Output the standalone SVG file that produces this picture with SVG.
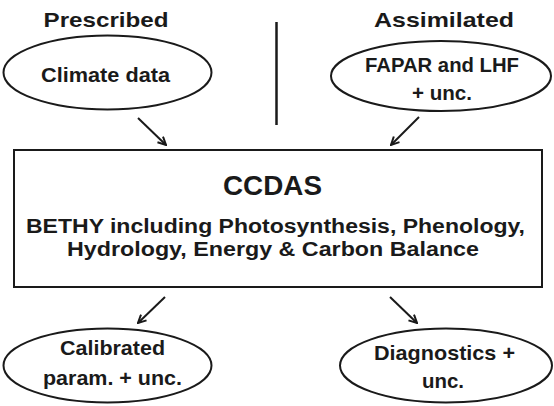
<svg xmlns="http://www.w3.org/2000/svg" width="554" height="406" viewBox="0 0 554 406">
<style>
text{font-family:"Liberation Sans",Arial,sans-serif;font-weight:bold;fill:#1a1a1a;text-anchor:middle}
.n{fill:#fff;stroke:#1a1a1a;stroke-width:2}
.c{stroke:#1a1a1a;stroke-width:2;fill:none;marker-end:url(#ah)}
.h{font-size:21px}
.l{font-size:21px}
</style>
<defs>
<marker id="ah" viewBox="0 0 10 10" refX="9" refY="5" markerWidth="10" markerHeight="10" markerUnits="userSpaceOnUse" orient="auto">
<path d="M1,1 L9,5 L1,9" fill="none" stroke="#1a1a1a" stroke-width="2"/>
</marker>
</defs>
<rect width="554" height="406" fill="#fff"/>
<g id="header-prescribed"><text class="h" x="106" y="27" textLength="125" lengthAdjust="spacingAndGlyphs">Prescribed</text></g>
<g id="header-assimilated"><text class="h" x="444" y="27" textLength="140" lengthAdjust="spacingAndGlyphs">Assimilated</text></g>
<g id="divider"><line x1="276.5" y1="22" x2="276.5" y2="125" stroke="#1a1a1a" stroke-width="2.5"/></g>
<g id="climate">
<ellipse class="n" cx="107.5" cy="72.5" rx="104" ry="37"/>
<text class="l" x="105.5" y="82" textLength="129" lengthAdjust="spacingAndGlyphs">Climate data</text>
</g>
<g id="fapar">
<ellipse class="n" cx="441" cy="76" rx="110" ry="35"/>
<text class="l" x="442" y="72" textLength="154" lengthAdjust="spacingAndGlyphs">FAPAR and LHF</text>
<text class="l" x="442" y="100" textLength="60" lengthAdjust="spacingAndGlyphs">+ unc.</text>
</g>
<g id="ccdas">
<rect class="n" x="14" y="150" width="528" height="137"/>
<text x="272.5" y="195" font-size="28" textLength="99" lengthAdjust="spacingAndGlyphs">CCDAS</text>
<text x="275.5" y="233" font-size="20" textLength="499" lengthAdjust="spacingAndGlyphs">BETHY including Photosynthesis, Phenology,</text>
<text x="273" y="256" font-size="20" textLength="412" lengthAdjust="spacingAndGlyphs">Hydrology, Energy &amp; Carbon Balance</text>
</g>
<g id="calibrated">
<ellipse class="n" cx="107.5" cy="365.5" rx="104" ry="37"/>
<text class="l" x="112.5" y="355" textLength="105" lengthAdjust="spacingAndGlyphs">Calibrated</text>
<text class="l" x="112.5" y="385" textLength="139" lengthAdjust="spacingAndGlyphs">param. + unc.</text>
</g>
<g id="diagnostics">
<ellipse class="n" cx="446" cy="365.5" rx="106" ry="37"/>
<text class="l" x="444.5" y="360" textLength="141" lengthAdjust="spacingAndGlyphs">Diagnostics +</text>
<text class="l" x="443" y="388" textLength="42" lengthAdjust="spacingAndGlyphs">unc.</text>
</g>
<g id="connectors">
<line class="c" x1="138" y1="118" x2="166" y2="145"/>
<line class="c" x1="419" y1="117" x2="391" y2="145"/>
<line class="c" x1="165" y1="297" x2="138" y2="323"/>
<line class="c" x1="390" y1="297" x2="417" y2="323"/>
</g>
</svg>
